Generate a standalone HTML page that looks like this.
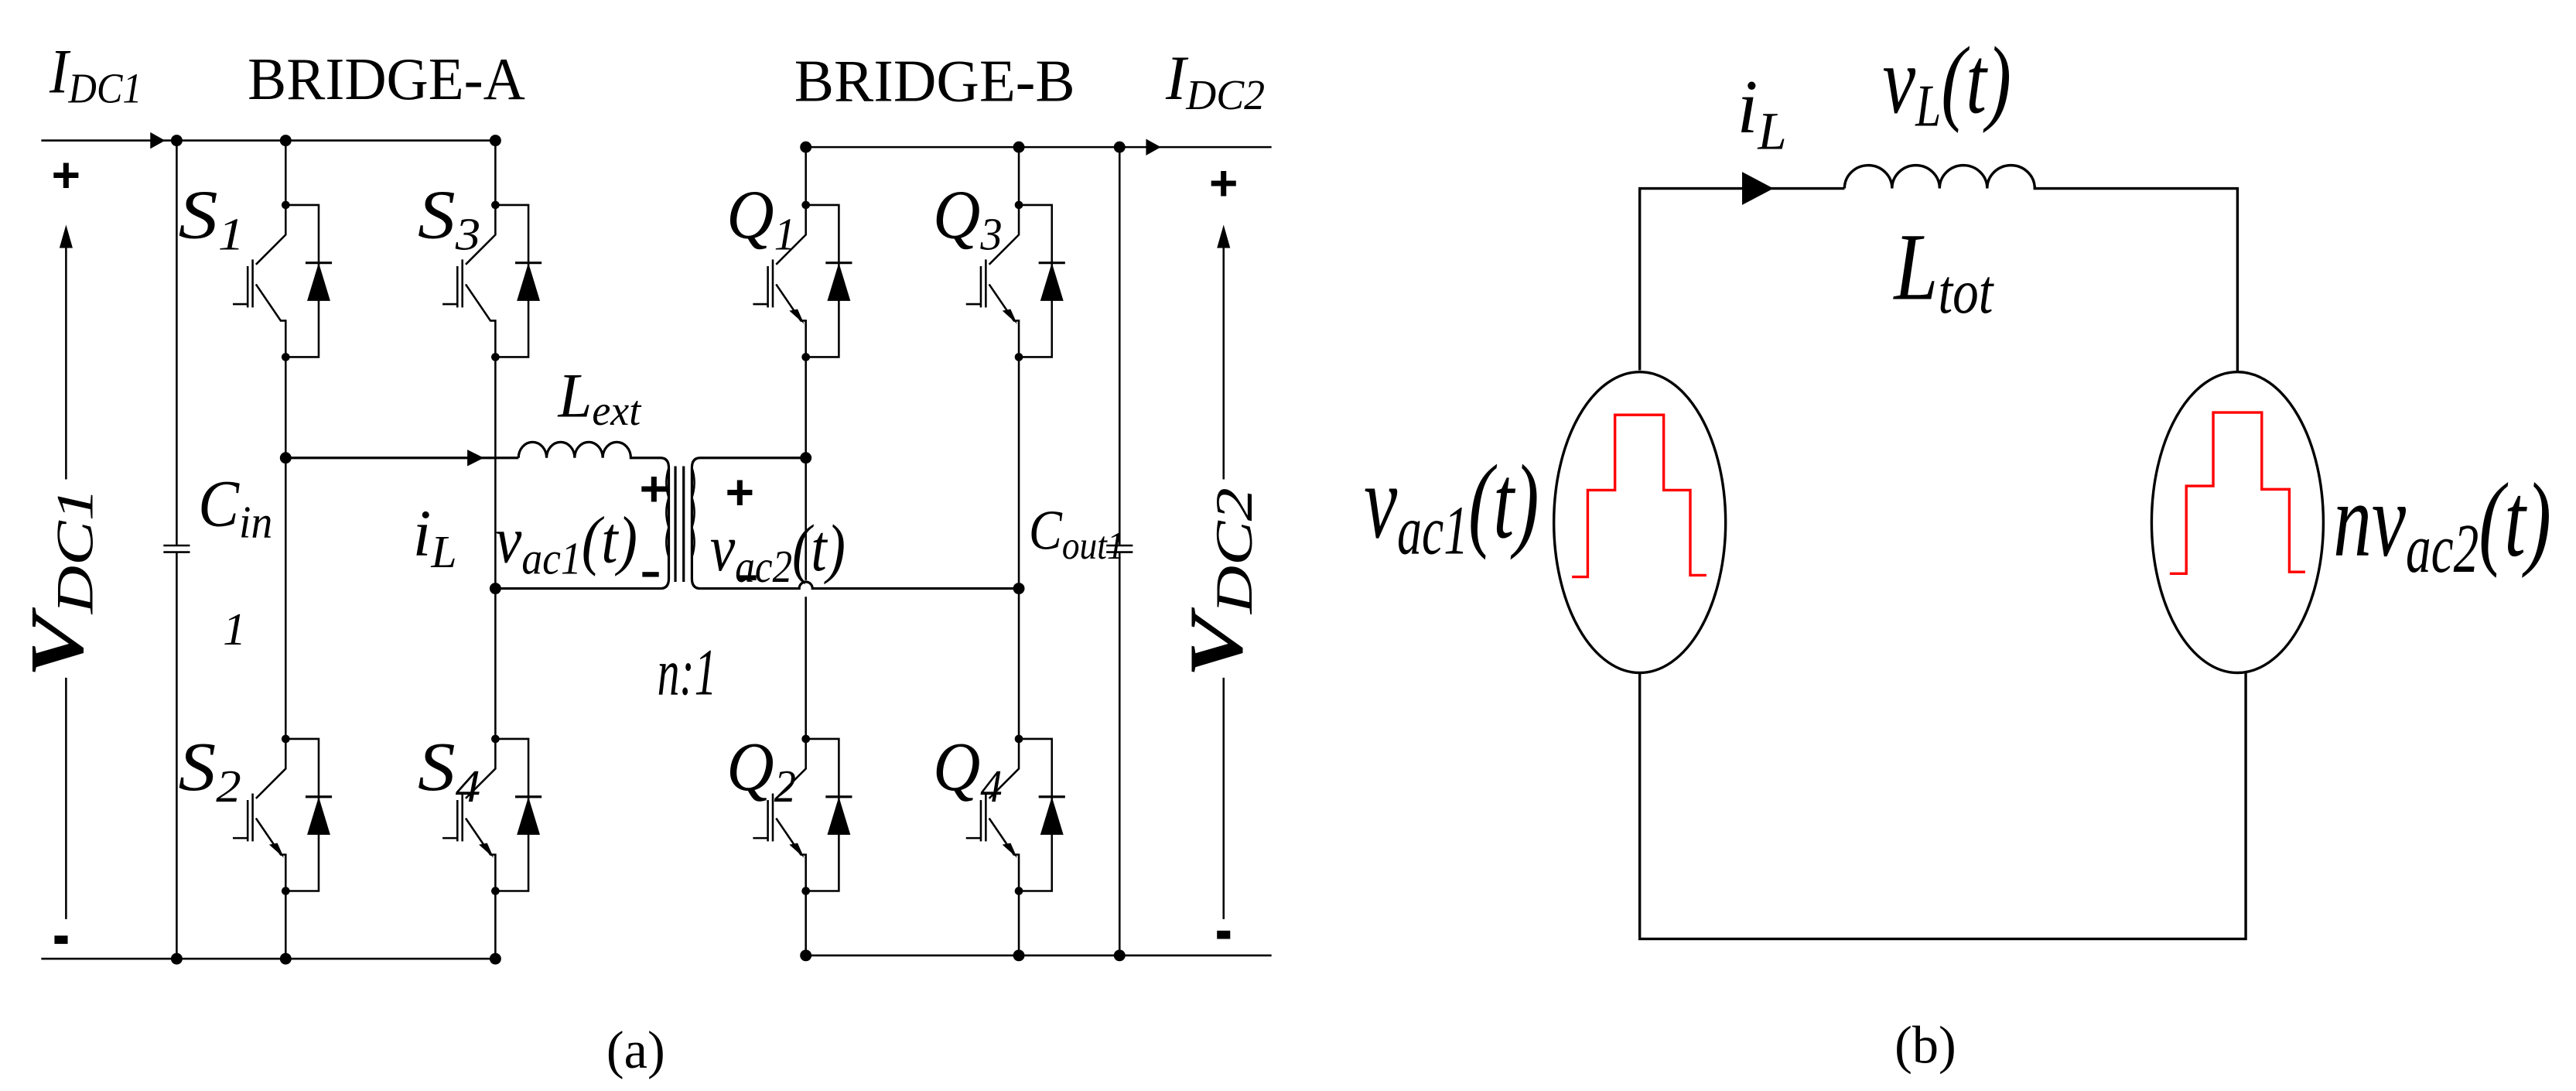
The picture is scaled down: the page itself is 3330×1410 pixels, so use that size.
<!DOCTYPE html>
<html><head><meta charset="utf-8"><style>
html,body{margin:0;padding:0;background:#fff;}
svg{display:block;}
text{font-family:"Liberation Serif",serif;font-style:italic;fill:#000;}
</style></head><body>
<svg width="3330" height="1410" viewBox="0 0 1560 660" preserveAspectRatio="none" xmlns="http://www.w3.org/2000/svg">
<defs>
<g id="swU">
  <path d="M0,0 H20 V92 H0" fill="none" stroke="#000" stroke-width="1.2"/>
  <path d="M0,0 V18 L-18,36" fill="none" stroke="#000" stroke-width="1.2"/>
  <path d="M-18,48 L-3,70 L0,70 V92" fill="none" stroke="#000" stroke-width="1.2"/>
  <path d="M-20,33 V62 M-23,37 V62 M-32,60 H-23" fill="none" stroke="#000" stroke-width="1.2"/>
  <path d="M13,58 H27 L20,35 Z" fill="#000"/>
  <path d="M12,35 H28" stroke="#000" stroke-width="1.5"/>
  <circle cx="0" cy="0" r="2.5"/>
  <circle cx="0" cy="92" r="2.5"/>
</g>
<g id="swA">
  <use href="#swU"/>
  <path d="M-3,70 L-9,61 L-5,66 Z M-1,72 L-10,64 L-5,63 Z" fill="#000"/>
</g>
</defs>
<g stroke="#000" stroke-width="1.2" fill="none">
  <path d="M25,85 H300"/>
  <path d="M25,580 H300"/>
  <path d="M488,89 H770"/>
  <path d="M488,578 H770"/>
  <path d="M107,85 V330 M99,330 H115 M99,334 H115 M107,334 V580"/>
  <path d="M678,89 V330 M670,330 H686 M670,334 H686 M678,334 V578"/>
  <path d="M173,85 V124 M173,216 V447 M173,540 V580"/>
  <path d="M300,85 V124 M300,216 V447 M300,540 V580"/>
  <path d="M488,89 V124 M488,216 V351 M488,361 V447 M488,540 V578"/>
  <path d="M617,89 V124 M617,216 V447 M617,540 V578"/>
  <path d="M173,277 H314" stroke-width="1.5"/>
  <path d="M314,277 a8,9 0 0 1 17,0 a8,9 0 0 1 17,0 a8,9 0 0 1 17,0 a8,9 0 0 1 17,0 H400 q5,0 5,6 V350 q0,6 -5,6 H300" stroke-width="1.5"/>
  <path d="M405,283 q-3,9 0,18 q-3,9 0,18 q-3,9 0,18" stroke-width="1.2"/>
  <path d="M409,282 V352 M414,282 V352" stroke-width="1.5"/>
  <path d="M488,277 H424 q-5,0 -5,6 V350 q0,6 5,6 H484 a4,4 0 0 1 8,0 H617" stroke-width="1.5"/>
  <path d="M419,283 q3,9 0,18 q3,9 0,18 q3,9 0,18" stroke-width="1.2"/>
  <path d="M40,148 V290 M40,410 V556"/>
  <path d="M741,148 V290 M741,410 V556"/>
</g>
<path d="M91,80 L100,85 L91,90 Z"/>
<path d="M694,84 L703,89 L694,94 Z"/>
<path d="M283,272 L293,277 L283,282 Z"/>
<path d="M36,150 L40,136 L44,150 Z"/>
<path d="M737,150 L741,136 L745,150 Z"/>
<g>
<circle cx="107" cy="85" r="3.5"/><circle cx="173" cy="85" r="3.5"/><circle cx="300" cy="85" r="3.5"/>
<circle cx="107" cy="580" r="3.5"/><circle cx="173" cy="580" r="3.5"/><circle cx="300" cy="580" r="3.5"/>
<circle cx="488" cy="89" r="3.5"/><circle cx="617" cy="89" r="3.5"/><circle cx="678" cy="89" r="3.5"/>
<circle cx="488" cy="578" r="3.5"/><circle cx="617" cy="578" r="3.5"/><circle cx="678" cy="578" r="3.5"/>
<circle cx="173" cy="277" r="3.5"/><circle cx="300" cy="356" r="3.5"/>
<circle cx="488" cy="277" r="3.5"/><circle cx="617" cy="356" r="3.5"/>
</g>
<use href="#swU" x="173" y="124"/>
<use href="#swU" x="300" y="124"/>
<use href="#swA" x="488" y="124"/>
<use href="#swA" x="617" y="124"/>
<use href="#swA" x="173" y="447"/>
<use href="#swA" x="300" y="447"/>
<use href="#swA" x="488" y="447"/>
<use href="#swA" x="617" y="447"/>
<text x="40" y="116" font-size="30" text-anchor="middle" style="font-family:'Liberation Sans';font-style:normal;font-weight:bold">+</text>
<text x="741" y="121" font-size="30" text-anchor="middle" style="font-family:'Liberation Sans';font-style:normal;font-weight:bold">+</text>
<rect x="33" y="566" width="8" height="5"/>
<rect x="737" y="563" width="8" height="5"/>
<text x="396" y="306" font-size="30" text-anchor="middle" style="font-family:'Liberation Sans';font-style:normal;font-weight:bold">+</text>
<text x="448" y="308" font-size="30" text-anchor="middle" style="font-family:'Liberation Sans';font-style:normal;font-weight:bold">+</text>
<rect x="389" y="346" width="10" height="3"/>
<rect x="448" y="348" width="10" height="3"/>
<text x="150" y="60" font-size="36" textLength="168" lengthAdjust="spacingAndGlyphs" style="font-style:normal">BRIDGE-A</text>
<text x="481" y="61" font-size="36" textLength="170" lengthAdjust="spacingAndGlyphs" style="font-style:normal">BRIDGE-B</text>
<text x="30" y="56" font-size="38" textLength="56" lengthAdjust="spacingAndGlyphs">I<tspan font-size="26" dy="6">DC1</tspan></text>
<text x="706" y="60" font-size="38" textLength="60" lengthAdjust="spacingAndGlyphs">I<tspan font-size="26" dy="6">DC2</tspan></text>
<text x="108" y="144" font-size="42" textLength="40" lengthAdjust="spacingAndGlyphs">S<tspan font-size="28" dy="7">1</tspan></text>
<text x="253" y="144" font-size="42" textLength="38" lengthAdjust="spacingAndGlyphs">S<tspan font-size="28" dy="7">3</tspan></text>
<text x="440" y="144" font-size="42" textLength="42" lengthAdjust="spacingAndGlyphs">Q<tspan font-size="28" dy="7">1</tspan></text>
<text x="565" y="144" font-size="42" textLength="42" lengthAdjust="spacingAndGlyphs">Q<tspan font-size="28" dy="7">3</tspan></text>
<text x="108" y="478" font-size="42" textLength="38" lengthAdjust="spacingAndGlyphs">S<tspan font-size="28" dy="7">2</tspan></text>
<text x="253" y="478" font-size="42" textLength="38" lengthAdjust="spacingAndGlyphs">S<tspan font-size="28" dy="7">4</tspan></text>
<text x="440" y="478" font-size="42" textLength="42" lengthAdjust="spacingAndGlyphs">Q<tspan font-size="28" dy="7">2</tspan></text>
<text x="565" y="478" font-size="42" textLength="42" lengthAdjust="spacingAndGlyphs">Q<tspan font-size="28" dy="7">4</tspan></text>
<text x="338" y="252" font-size="38" textLength="50" lengthAdjust="spacingAndGlyphs">L<tspan font-size="26" dy="5">ext</tspan></text>
<text x="250" y="336" font-size="40">i<tspan font-size="28" dy="7">L</tspan></text>
<text x="120" y="318" font-size="40" textLength="45" lengthAdjust="spacingAndGlyphs">C<tspan font-size="28" dy="7">in</tspan></text>
<text x="135" y="390" font-size="28">1</text>
<text x="300" y="340" font-size="40" textLength="86" lengthAdjust="spacingAndGlyphs">v<tspan font-size="28" dy="7">ac1</tspan><tspan font-size="40" dy="-7">(t)</tspan></text>
<text x="430" y="345" font-size="40" textLength="82" lengthAdjust="spacingAndGlyphs">v<tspan font-size="28" dy="7">ac2</tspan><tspan font-size="40" dy="-7">(t)</tspan></text>
<text x="398" y="420" font-size="40" textLength="36" lengthAdjust="spacingAndGlyphs">n:1</text>
<text x="623" y="332" font-size="34" textLength="58" lengthAdjust="spacingAndGlyphs">C<tspan font-size="24" dy="6">out1</tspan></text>
<text transform="translate(50,410) rotate(-90)" font-size="46" textLength="115" lengthAdjust="spacingAndGlyphs" style="font-weight:bold">V<tspan font-size="32" dy="6" style="font-weight:normal">DC1</tspan></text>
<text transform="translate(752,410) rotate(-90)" font-size="46" textLength="115" lengthAdjust="spacingAndGlyphs" style="font-weight:bold">V<tspan font-size="32" dy="6" style="font-weight:normal">DC2</tspan></text>
<text x="385" y="646" font-size="32" text-anchor="middle" style="font-style:normal">(a)</text>

<g stroke="#000" stroke-width="1.6" fill="none">
  <path d="M993,224 V114 H1117"/>
  <path d="M1117,114 a14.4,14 0 0 1 28.8,0 a14.4,14 0 0 1 28.8,0 a14.4,14 0 0 1 28.8,0 a14.4,14 0 0 1 28.8,0 H1355 V225"/>
  <path d="M993,407 V568 H1360 V407"/>
  <ellipse cx="993" cy="316" rx="52" ry="91"/>
  <ellipse cx="1355" cy="316" rx="52" ry="91"/>
</g>
<path d="M1055,104 L1074,114 L1055,124 Z"/>
<g stroke="#f00" stroke-width="1.6" fill="none">
  <path d="M952,349 H961.5 V296.5 H978 V251 H1007.5 V296.5 H1023.6 V348 H1033.4"/>
  <path d="M1314,347 H1324 V294 H1340.3 V249.5 H1369.7 V296 H1386.4 V346 H1396"/>
</g>
<text x="1052" y="80" font-size="46" textLength="30" lengthAdjust="spacingAndGlyphs">i<tspan font-size="32" dy="10">L</tspan></text>
<text x="1140" y="68" font-size="58" textLength="78" lengthAdjust="spacingAndGlyphs">v<tspan font-size="36" dy="8">L</tspan><tspan font-size="58" dy="-8">(t)</tspan></text>
<text x="1147" y="181" font-size="58" textLength="60" lengthAdjust="spacingAndGlyphs">L<tspan font-size="38" dy="8">tot</tspan></text>
<text x="826" y="325" font-size="64" textLength="106" lengthAdjust="spacingAndGlyphs">v<tspan font-size="42" dy="10">ac1</tspan><tspan font-size="64" dy="-10">(t)</tspan></text>
<text x="1413" y="336" font-size="64" textLength="132" lengthAdjust="spacingAndGlyphs">nv<tspan font-size="42" dy="10">ac2</tspan><tspan font-size="64" dy="-10">(t)</tspan></text>
<text x="1166" y="643" font-size="32" text-anchor="middle" style="font-style:normal">(b)</text>
</svg>
</body></html>
